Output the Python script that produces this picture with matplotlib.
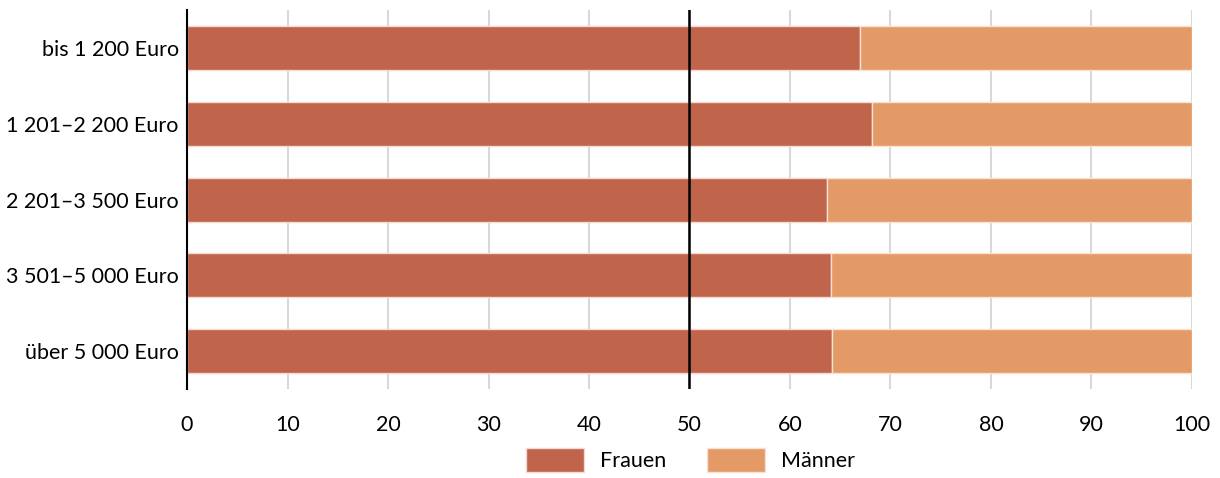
import matplotlib.pyplot as plt
import numpy as np

# Data
categories = ['bis 1 200 Euro', '1 201–2 200 Euro', '2 201–3 500 Euro',
              '3 501–5 000 Euro', 'über 5 000 Euro']
frauen = [67.0, 68.2, 63.7, 64.1, 64.2]
maenner = [100 - v for v in frauen]

plt.rcParams['font.family'] = ['Lato', 'DejaVu Sans']

fig = plt.figure(figsize=(12.2, 4.78), dpi=100)
ax = fig.add_axes([0.1533, 0.186, 0.8237, 0.793])

y = np.arange(len(categories))
ax.barh(y, frauen, height=0.58, color='#C0644B', edgecolor='#F3D9D0',
        linewidth=1, label='Frauen', zorder=3)
ax.barh(y, maenner, left=frauen, height=0.58, color='#E39A66',
        edgecolor='#F7E1D1', linewidth=1, label='Männer', zorder=3)

ax.set_ylim(len(categories) - 0.5, -0.5)
ax.set_xlim(0, 100)
ax.set_yticks(y)
ax.set_yticklabels(categories)
ax.set_xticks(range(0, 101, 10))

ax.grid(axis='x', color='#D9D9D9', linewidth=1.5, zorder=0)
ax.axvline(50, color='black', linewidth=1.8, zorder=4)

for s in ['top', 'right', 'bottom']:
    ax.spines[s].set_visible(False)
ax.spines['left'].set_color('black')
ax.spines['left'].set_linewidth(1.5)
ax.spines['left'].set_zorder(5)

ax.tick_params(axis='both', length=0, labelsize=15.5, colors='black')
ax.tick_params(axis='x', pad=19)
ax.tick_params(axis='y', pad=6)

fig.legend(loc='lower center', bbox_to_anchor=(0.566, -0.005), ncol=2,
           frameon=False, fontsize=15.5, handlelength=2.7, handleheight=1.3,
           handletextpad=0.75, columnspacing=1.85, borderaxespad=0.0)

fig.savefig('out.png', dpi=100)
